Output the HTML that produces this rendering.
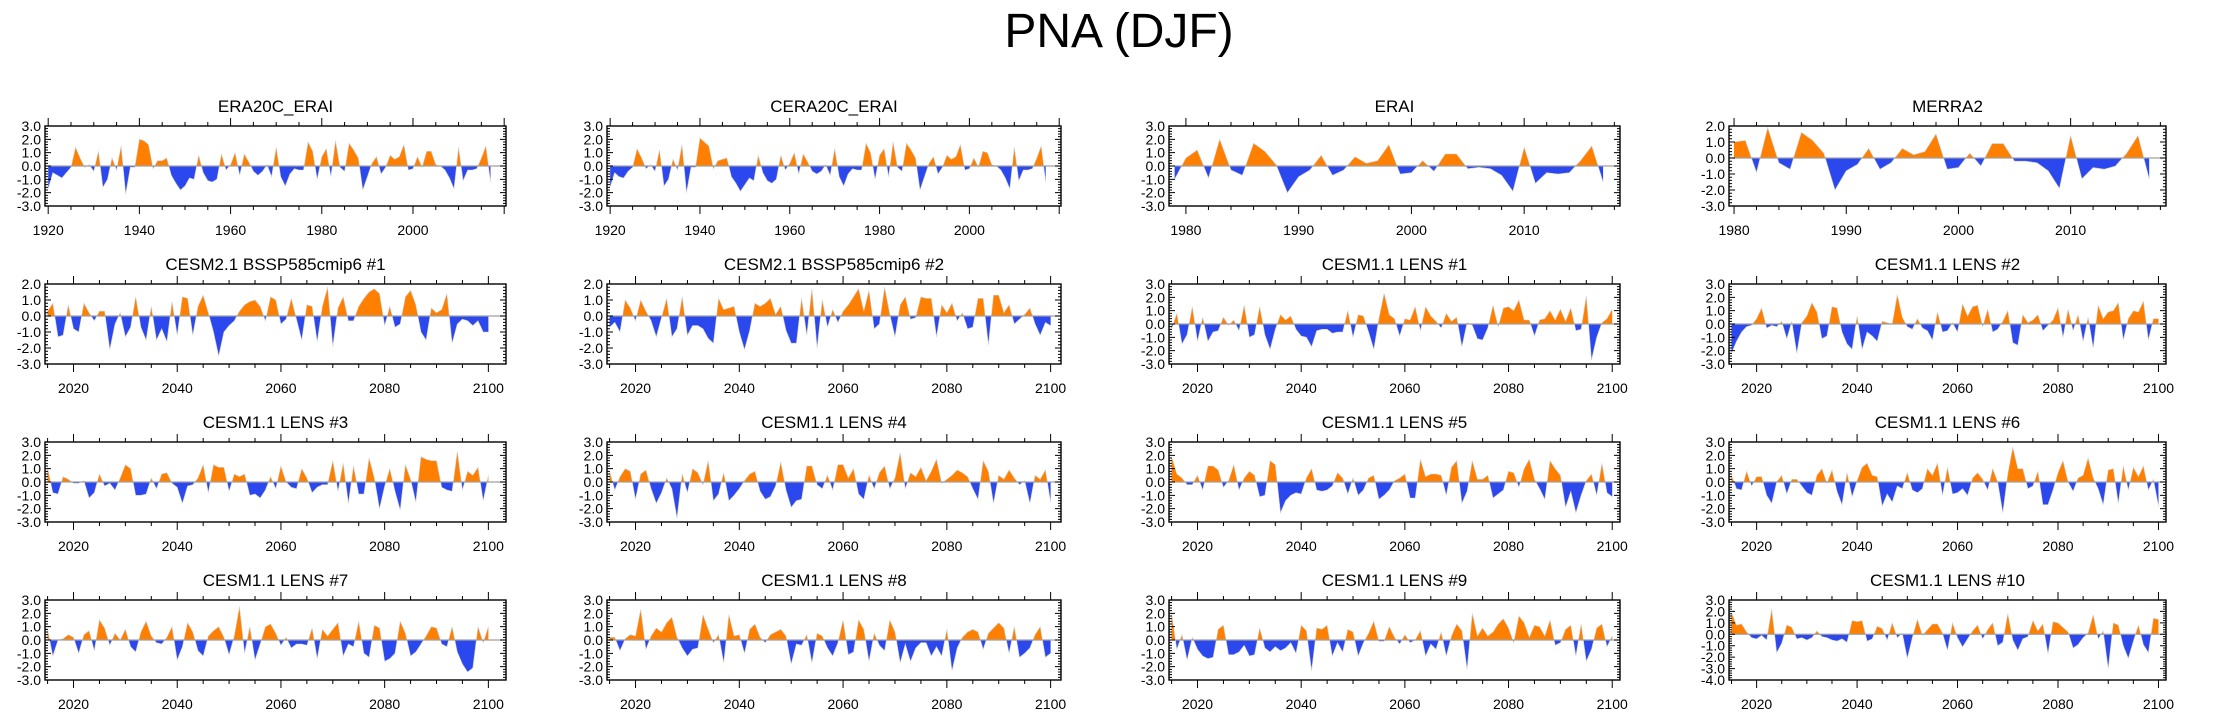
<!DOCTYPE html>
<html><head><meta charset="utf-8"><title>PNA (DJF)</title>
<style>
html,body{margin:0;padding:0;background:#fff;}
svg{display:block;font-family:"Liberation Sans",Arial,sans-serif;}
</style></head>
<body>
<svg id="chart" width="2238" height="718" viewBox="0 0 2238 718" xmlns="http://www.w3.org/2000/svg">
<rect x="0" y="0" width="2238" height="718" fill="#fff"/>
<text x="1119" y="47" font-size="48" text-anchor="middle" fill="#000">PNA (DJF)</text>
</svg>
<script>
const titles = ["ERA20C_ERAI","CERA20C_ERAI","ERAI","MERRA2","CESM2.1 BSSP585cmip6 #1","CESM2.1 BSSP585cmip6 #2","CESM1.1 LENS #1","CESM1.1 LENS #2","CESM1.1 LENS #3","CESM1.1 LENS #4","CESM1.1 LENS #5","CESM1.1 LENS #6","CESM1.1 LENS #7","CESM1.1 LENS #8","CESM1.1 LENS #9","CESM1.1 LENS #10"];
const startYears = [1920,1920,1979,1980,2015,2015,2015,2015,2015,2015,2015,2015,2015,2015,2015,2015];
const yMins = [-3,-3,-3,-3,-3,-3,-3,-3,-3,-3,-3,-3,-3,-3,-3,-4];
const yMaxs = [3,3,3,2,2,2,3,3,3,3,3,3,3,3,3,3];
const xTickLabels = [[1920,1940,1960,1980,2000],[1920,1940,1960,1980,2000],[1980,1990,2000,2010],[1980,1990,2000,2010],[2020,2040,2060,2080,2100]];

const sEra20c = [-1.7,-0.5,-0.7,-0.9,-0.5,-0.1,1.4,0.6,-0.1,0.1,-0.4,1.1,-1.6,-1.0,0.6,-0.3,1.5,-2.1,-0.1,-0.1,2.0,1.9,1.6,-0.2,0.4,0.4,0.6,-0.7,-1.3,-1.8,-1.5,-0.9,-1.0,0.8,-0.5,-1.1,-1.2,-1.0,0.9,-0.3,0.1,1.0,-0.7,0.9,0.3,-0.4,-0.7,-0.4,0.1,-0.8,1.4,-0.8,-1.5,-0.6,-0.2,-0.3,-0.3,1.8,1.1,-1.0,0.7,1.3,-0.8,1.9,-0.1,-0.4,1.7,1.2,0.6,-1.8,-0.8,0.2,0.7,-0.6,-0.1,0.8,0.5,0.7,1.6,-0.3,-0.2,0.7,-0.1,1.1,1.1,0.1,0.0,-0.3,-0.9,-1.7,1.4,-1.1,-0.3,-0.3,-0.2,0.6,1.5,-1.2];
const sCera20c = [-1.6,-0.5,-0.8,-0.9,-0.4,-0.1,1.3,0.6,-0.2,0.1,-0.4,1.2,-1.5,-1.0,0.5,-0.3,1.6,-2.0,-0.1,-0.1,2.1,1.8,1.5,-0.2,0.4,0.5,0.6,-0.8,-1.3,-1.9,-1.4,-0.9,-1.1,0.8,-0.5,-1.1,-1.3,-1.0,0.8,-0.3,0.2,1.0,-0.6,0.9,0.3,-0.4,-0.6,-0.4,0.1,-0.7,1.3,-0.8,-1.5,-0.6,-0.2,-0.3,-0.3,1.7,1.0,-1.0,0.8,1.3,-0.8,1.8,-0.1,-0.4,1.7,1.2,0.6,-1.8,-0.8,0.2,0.7,-0.6,-0.1,0.8,0.5,0.7,1.6,-0.3,-0.2,0.6,-0.1,1.1,1.0,0.1,0.0,-0.3,-0.9,-1.7,1.4,-1.1,-0.3,-0.3,-0.2,0.6,1.5,-1.2];
const sErai = [-1.0,0.6,1.2,-0.9,2.0,-0.3,-0.7,1.7,1.1,0.1,-2.0,-0.8,-0.3,0.8,-0.7,-0.3,0.7,0.2,0.4,1.6,-0.6,-0.5,0.4,-0.4,0.9,0.9,-0.2,-0.1,-0.2,-0.7,-1.9,1.4,-1.3,-0.5,-0.6,-0.5,0.4,1.5,-1.2];
const sMerra2 = [1.0,1.1,-0.9,1.9,-0.3,-0.7,1.6,1.1,0.3,-2.0,-0.8,-0.4,0.6,-0.7,-0.3,0.6,0.2,0.4,1.5,-0.7,-0.6,0.3,-0.5,0.9,0.9,-0.2,-0.2,-0.3,-0.8,-1.9,1.4,-1.3,-0.6,-0.7,-0.5,0.3,1.4,-1.3];
const sCesm2a = [0.3,0.8,-1.3,-1.2,0.7,-0.8,-1.0,0.8,0.2,-0.3,0.3,0.3,-2.1,-0.5,0.2,-1.3,-0.7,1.2,-0.7,-1.5,0.6,-1.5,-0.8,-1.6,0.9,-1.2,1.2,1.1,-1.2,0.6,1.3,0.2,-1.0,-2.5,-1.0,-0.6,-0.3,0.3,0.7,0.9,1.0,0.6,-0.3,1.2,1.0,-0.5,-0.2,1.1,-0.2,-1.5,0.7,0.6,-1.6,0.6,1.8,-1.9,0.5,1.2,-0.3,-0.3,0.6,1.1,1.5,1.7,1.4,-0.6,0.6,-0.7,-0.5,1.2,1.6,0.7,-1.0,-1.5,0.5,0.2,0.4,1.4,-1.7,-0.5,-0.2,-0.3,-0.6,-0.3,-1.0,-1.0];
const sCesm2b = [-0.7,-0.4,-1.0,1.0,0.5,-0.3,1.0,0.3,-0.3,-1.3,-0.1,1.1,-1.3,-0.8,1.2,-1.2,-0.6,-0.6,-0.8,-1.4,-1.7,1.1,0.4,0.5,0.6,-1.0,-2.1,-0.9,0.8,0.6,0.8,1.1,0.1,0.6,-0.9,-1.7,-1.7,1.1,-1.2,1.7,-2.0,1.0,-0.7,0.4,-0.4,0.3,0.7,1.2,1.7,0.3,1.6,-0.8,-0.5,1.8,0.1,-1.3,0.7,1.2,-0.2,-0.1,1.2,1.1,1.1,-1.3,0.7,0.2,0.8,-0.3,0.2,-0.8,-0.7,1.1,1.1,-1.8,1.3,1.3,0.2,0.7,-0.5,-0.2,0.1,0.5,-0.5,-1.2,-0.4,-0.6];
const sLens1 = [-0.4,0.8,-1.5,-0.8,1.3,-1.3,0.5,-1.3,-0.6,-0.5,0.5,-0.1,0.3,-0.5,1.4,-1.0,-0.8,1.3,-0.8,-1.9,-0.4,0.7,0.3,0.6,-0.4,-0.9,-1.0,-1.7,-0.5,-0.4,-0.4,-0.7,-0.6,-0.6,1.0,-1.0,0.7,0.6,-0.6,-1.9,0.4,2.3,0.7,0.4,-0.9,0.4,0.3,1.3,-0.5,1.3,0.6,0.2,-0.3,0.8,0.2,0.5,-1.7,0.1,-0.1,-1.1,-1.2,-0.3,1.4,-0.2,1.2,1.3,1.0,1.8,0.3,0.3,-0.9,0.3,0.4,1.0,0.3,1.1,0.2,1.2,-0.5,-0.4,2.1,-2.7,-1.0,0.1,0.4,1.1];
const sLens2 = [-2.2,-1.3,-0.6,-0.2,-0.1,0.4,1.2,-0.3,-0.1,-0.2,0.2,-1.1,0.2,-2.2,0.1,0.6,1.6,0.9,-1.1,-0.9,1.3,1.2,-0.6,-1.5,-1.9,0.6,-1.9,-0.6,-0.9,-1.3,0.2,0.1,0.0,2.2,0.5,-0.2,-0.4,0.4,-0.3,-0.5,-1.2,0.9,-0.6,-0.5,0.1,-0.6,1.5,0.6,1.3,1.4,-0.2,1.1,-0.6,-0.4,0.2,1.0,-1.4,-1.6,0.7,0.1,0.3,0.7,-0.5,-0.1,0.3,1.2,-1.0,1.1,-0.5,0.7,-1.3,0.5,-1.8,1.4,0.4,0.9,1.0,1.6,-1.2,0.4,1.0,0.9,1.7,-1.2,0.4,0.4];
const sLens3 = [1.1,-0.8,-0.9,0.4,0.2,-0.1,-0.1,0.1,-1.2,-0.8,0.6,-0.3,-0.1,-0.6,0.3,1.3,1.0,-1.0,-1.0,-0.9,0.3,-0.5,0.6,0.7,-0.1,-0.4,-1.6,-0.3,-0.2,0.3,1.3,-0.8,1.3,1.1,1.1,-0.7,0.6,0.4,0.6,-1.0,-0.9,-1.2,-0.6,0.4,-0.5,1.2,0.0,-0.4,-0.5,1.0,0.3,-0.8,-0.4,-0.2,-0.2,1.6,-0.7,1.4,-1.6,1.2,-0.9,-0.9,1.8,0.3,-2.0,-0.3,1.0,-0.7,-2.1,1.3,0.2,-1.5,1.9,1.7,1.6,1.6,-0.4,-0.6,-0.7,2.3,-0.6,0.8,0.5,1.1,-1.4,0.5];
const sLens4 = [0.8,-0.6,0.4,1.0,0.8,-1.3,0.6,0.9,-0.5,-1.6,-0.8,0.3,-0.5,-2.7,0.6,-0.8,1.0,0.7,-0.2,1.6,-1.4,-0.9,0.7,-1.4,-1.0,-0.5,0.1,0.6,0.8,-0.7,-1.3,-1.1,-0.3,1.5,-0.6,-1.9,-1.4,-1.3,1.2,1.2,-0.2,-0.5,0.5,-0.6,1.3,1.3,0.3,1.0,-0.9,-1.3,0.5,-0.5,0.7,1.2,-0.5,0.3,2.2,-0.5,0.7,0.4,1.1,0.1,0.8,1.7,-0.1,0.2,0.5,0.9,0.7,0.4,-0.5,-1.3,1.6,0.8,-1.6,0.5,0.2,0.9,0.3,-0.2,0.1,-1.6,0.5,0.2,0.9,-1.5];
const sLens5 = [1.9,0.6,0.3,-0.2,-0.2,0.5,-0.6,1.2,1.2,0.9,-0.4,0.1,1.3,-0.6,0.3,0.8,0.5,-1.1,-1.0,1.6,1.3,-2.3,-1.4,-1.0,-0.8,-0.9,0.3,1.0,-0.6,-0.7,-0.6,-0.3,0.7,0.3,-0.9,0.3,-1.0,-0.6,0.3,0.5,-1.3,-1.0,-0.6,0.1,0.3,0.6,-1.2,-1.2,1.7,0.4,0.6,0.6,0.5,-1.0,1.1,1.6,-1.6,-0.7,1.6,0.2,0.2,0.5,-1.2,-0.9,-0.6,0.8,0.7,-0.4,1.0,1.7,0.2,-0.5,-1.3,1.6,1.0,0.5,-1.9,-0.7,-2.3,-1.0,0.1,0.6,-1.0,1.4,-0.8,-1.1];
const sLens6 = [0.5,-0.5,-0.6,0.8,-0.3,0.4,0.4,-1.0,-1.6,0.0,0.5,-0.9,0.2,0.2,-0.3,-0.8,-1.0,0.5,1.0,-0.1,0.9,-0.7,-1.7,0.7,-1.1,0.1,1.1,1.4,0.5,0.4,-1.8,-0.9,-1.5,-0.3,-0.5,0.7,-0.6,-0.8,-0.5,1.0,0.5,1.4,-1.0,1.1,-0.9,-0.8,-0.5,-1.0,0.3,0.7,0.2,-0.6,1.0,0.0,-2.3,0.6,2.6,1.0,1.0,-0.5,-0.3,0.8,-1.7,-1.7,-0.6,0.7,1.6,0.0,-0.7,0.3,0.5,1.8,0.3,-0.5,-1.7,0.9,1.0,-1.6,1.2,-0.6,1.1,0.4,1.2,-0.6,0.2,-1.8];
const sLens7 = [0.8,-1.2,0.0,0.1,0.4,0.2,-1.0,0.4,0.7,-0.8,1.5,0.9,-0.4,0.5,0.0,0.8,-0.5,-0.9,0.6,1.4,0.3,-0.2,-0.3,0.2,1.0,-1.5,-0.5,1.3,0.6,-0.8,-1.2,0.3,0.7,1.0,0.2,-1.1,0.3,2.5,-1.0,1.0,-1.5,-0.3,1.0,1.2,0.5,-0.4,0.2,-0.6,-0.3,-0.3,-0.4,0.9,-1.4,0.8,0.3,0.8,1.3,-1.2,-0.3,-0.5,1.4,-1.0,-1.3,1.1,0.9,-1.6,-1.4,-1.0,1.4,0.5,-1.2,-0.9,-0.3,0.3,1.0,0.9,-0.3,-0.5,1.0,-0.9,-1.8,-2.4,-2.1,1.0,-0.2,1.0];
const sLens8 = [0.2,0.2,-0.8,0.1,0.4,0.3,2.3,-0.7,0.3,0.9,0.6,1.3,1.7,0.2,-0.6,-1.2,-0.7,-0.6,1.9,0.8,-0.2,0.4,-1.7,1.9,0.3,0.4,-1.0,0.8,1.2,0.2,-0.2,0.4,0.6,0.8,0.3,-1.8,-0.3,-0.4,0.4,-1.7,0.5,0.3,-0.6,-1.2,-0.2,1.5,-1.1,-0.9,1.5,0.8,-1.6,0.5,-0.4,-0.8,1.5,0.6,-1.7,-0.3,-1.6,-0.6,-0.2,-0.2,-1.2,-0.5,-1.2,0.8,-2.3,-0.6,0.2,0.6,0.8,0.6,-0.7,0.5,0.9,1.3,0.9,-1.0,1.0,-1.3,-1.0,-0.6,0.4,1.0,-1.3,-1.0];
const sLens9 = [2.0,-0.7,0.4,-1.5,0.2,-0.7,-1.2,-1.4,-1.3,0.8,1.1,-1.1,-1.1,-0.9,-0.4,-1.2,-1.1,0.9,-0.6,-0.9,-0.5,-0.8,-0.6,-0.2,-1.0,1.1,0.7,-2.3,0.9,0.8,1.1,-1.2,-0.2,-0.9,0.8,0.6,-1.2,-0.2,0.5,1.4,-0.1,-0.1,1.0,0.2,-0.3,0.4,-0.2,0.0,0.7,-1.2,-0.3,-0.7,0.6,-1.2,0.3,1.2,0.7,-2.2,2.0,0.3,0.9,0.3,0.6,1.2,1.6,0.9,-0.2,1.8,1.3,0.2,1.1,1.0,0.3,1.5,-0.4,-0.2,0.8,1.1,-1.2,1.2,-1.6,-0.7,0.9,1.2,-0.5,0.3];
const sLens10 = [1.9,0.8,0.9,0.2,-0.3,-0.4,-0.1,-0.5,2.2,-1.6,-0.8,0.8,0.6,-0.4,-0.3,-0.5,-0.3,0.3,-0.2,-0.3,-0.5,-0.6,-0.4,-0.7,1.2,1.1,1.2,-0.6,-0.4,0.7,0.5,-0.5,1.0,-0.3,0.1,-2.1,-0.3,1.3,-0.1,0.4,0.9,0.9,0.1,-1.4,1.0,-0.3,-1.1,-0.4,0.3,0.8,-0.4,0.4,1.0,-1.0,-0.7,1.8,-0.5,-1.4,-0.4,-0.2,1.2,0.3,0.9,-1.7,1.1,1.0,0.6,0.2,-1.2,-0.9,-0.3,0.1,1.7,-0.4,0.3,-3.0,1.0,0.8,-1.0,-2.1,-0.6,0.8,-0.9,-1.6,1.4,1.3];

const seriesList = [sEra20c,sCera20c,sErai,sMerra2,sCesm2a,sCesm2b,sLens1,sLens2,sLens3,sLens4,sLens5,sLens6,sLens7,sLens8,sLens9,sLens10];

const NS = "http://www.w3.org/2000/svg";
const svg = document.getElementById("chart");
const colX = [[45,506],[607,1061],[1169,1620],[1729,2166]];
const rowTop = [126,284,442,600];
const PH = 80;
function mk(tag, attrs, parent){const e=document.createElementNS(NS,tag);for(const k in attrs)e.setAttribute(k,attrs[k]);(parent||svg).appendChild(e);return e;}

for(let p=0;p<16;p++){
  const r=Math.floor(p/4), c=p%4;
  const x0=colX[c][0], x1=colX[c][1], y0=rowTop[r], y1=rowTop[r]+PH;
  const data=seriesList[p], sy=startYears[p];
  let xmin,xmax,majStep,minStep,labels;
  if(p<2){xmin=1919.3;xmax=2020.4;majStep=20;minStep=5;labels=xTickLabels[p];}
  else if(p<4){xmin=(p==2)?1978.5:1979.55;xmax=2018.5;majStep=10;minStep=2;labels=xTickLabels[p];}
  else {xmin=2014.5;xmax=(c==0)?2103.4:(c==1?2102:2101.5);majStep=20;minStep=5;labels=xTickLabels[4];}
  const ymin=yMins[p], ymax=yMaxs[p];
  const X=v=>x0+(v-xmin)/(xmax-xmin)*(x1-x0);
  const Y=v=>y1-(v-ymin)/(ymax-ymin)*(y1-y0);
  const g=mk("g",{});
  
  
  const t=mk("text",{x:(x0+x1)/2,y:y0-14,"font-size":17,"text-anchor":"middle",fill:"#000"},g);
  t.textContent=titles[p];
  
  
  const cid="clip"+p;
  const defs=mk("defs",{},g);
  const cpU=mk("clipPath",{id:cid+"u"},defs); mk("rect",{x:x0,y:y0,width:x1-x0,height:Y(0)-y0},cpU);
  const cpD=mk("clipPath",{id:cid+"d"},defs); mk("rect",{x:x0,y:Y(0),width:x1-x0,height:y1-Y(0)},cpD);
  let d="M"+X(sy)+","+Y(0);
  let ln="";
  for(let i=0;i<data.length;i++){const px=X(sy+i),py=Y(data[i]);d+=" L"+px.toFixed(1)+","+py.toFixed(1);ln+=(i?" L":"M")+px.toFixed(1)+","+py.toFixed(1);}
  d+=" L"+X(sy+data.length-1)+","+Y(0)+" Z";
  const au=mk("path",{d:d,fill:"#ff8000","clip-path":"url(#"+cid+"u)"},g);
  
  
  const ad=mk("path",{d:d,fill:"#2b47ee","clip-path":"url(#"+cid+"d)"},g);
  
  
  const sl=mk("path",{d:ln,fill:"none",stroke:"#cfcfcf","stroke-width":0.6},g);
  
  
  const zl=mk("line",{x1:x0,x2:x1,y1:Y(0),y2:Y(0),stroke:"#a0a0a0","stroke-width":1.2},g);
  
  
  const fr=mk("rect",{x:x0,y:y0,width:x1-x0,height:y1-y0,fill:"none",stroke:"#000","stroke-width":1.4},g);
  
  
  let tp="";
  for(let v=Math.ceil(xmin/minStep)*minStep; v<=xmax; v+=minStep){
    const px=X(v), L=(v%majStep===0)?8:4;
    tp+="M"+px+","+y0+" v"+(-L)+" M"+px+","+y1+" v"+L+" ";
  }
  for(let k=Math.round(ymin*5);k<=Math.round(ymax*5);k++){
    const v=k/5, py=Y(v), L=(k%5===0)?6:3;
    tp+="M"+x0+","+py+" h"+L+" M"+x1+","+py+" h"+(-L)+" ";
  }
  const tk=mk("path",{d:tp,stroke:"#000","stroke-width":1,fill:"none"},g);
  
  
  for(const lv of labels){
    const tl=mk("text",{x:X(lv),y:y1+29,"font-size":14,"text-anchor":"middle",fill:"#000"},g);
    tl.textContent=lv;
    
    
  }
  for(let v=ymin; v<=ymax; v++){
    const yl=mk("text",{x:x0-4,y:Y(v)+5,"font-size":14,"text-anchor":"end",fill:"#000"},g);
    yl.textContent=v.toFixed(1);
    
    
  }
}
</script>
</body></html>
